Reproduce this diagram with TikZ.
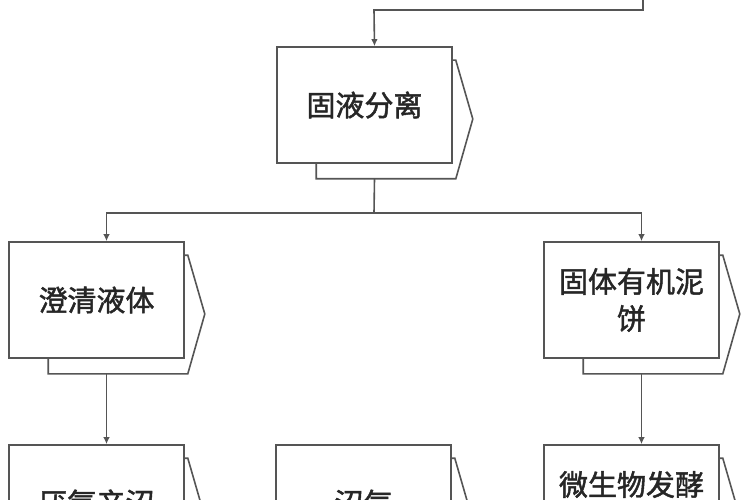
\documentclass[tikz,border=0pt]{standalone}
\usepackage{fontspec}
\newfontfamily\cjk{Noto Sans CJK SC}[FakeBold=1.6]
\usetikzlibrary{arrows.meta,backgrounds,calc}
\definecolor{lc}{HTML}{555555}
\definecolor{tc}{HTML}{262626}
\tikzset{
 conn/.style={draw=lc, line width=1.6pt},
 arr/.style={conn, -{Latex[length=7pt,width=6.5pt]}},
 frontbox/.style={draw=lc, fill=white, line width=1.6pt, minimum width=175pt, minimum height=116pt, inner sep=0pt, text=tc, font=\cjk\fontsize{29}{37}\selectfont, align=center},
 backbox/.style={draw=lc, fill=white, line width=1.6pt, line join=miter},
}
\newcommand{\drawback}[1]{%
 \path[backbox] ($(#1.north west)+(40,14)$) -- ($(#1.north east)+(3,14)$) -- ($(#1.east)+(20,14)$) -- ($(#1.south east)+(3,15)$) -- ($(#1.south west)+(40,15)$) -- cycle;}
\begin{document}
\begin{tikzpicture}[x=1pt,y=-1pt]
\useasboundingbox (0,0) rectangle (750,500);
\node[frontbox] (sep) at (364.5,105) {固液分离};
\node[frontbox] (clear) at (96.5,300) {澄清液体};
\node[frontbox] (cake) at (631.5,300) {固体有机泥\\饼};
\node[frontbox] (anaer) at (96.5,503) {厌氧产沼};
\node[frontbox] (biogas) at (363.5,503) {沼气};
\node[frontbox] (ferm) at (631.5,503) {微生物发酵\\\phantom{饼}};
\begin{pgfonlayer}{background}
\fill[white] (0,0) rectangle (750,500);
\drawback{sep}
\drawback{clear}
\drawback{cake}
\drawback{anaer}
\drawback{biogas}
\drawback{ferm}
\end{pgfonlayer}
\coordinate (topin) at (643,0);
\coordinate (topbend) at (374,10);
\draw[arr] (topin) |- (topbend) -- ($(sep.north)+(10,0)$);
\coordinate (split) at (374,213);
\draw[conn] ($(sep.south)+(10,15)$) -- (split);
\draw[arr] (split) -| ($(clear.north)+(10,0)$);
\draw[arr] (split) -| ($(cake.north)+(10,0)$);
\draw[arr] ($(clear.south)+(10,15)$) -- ($(anaer.north)+(10,0)$);
\draw[arr] ($(cake.south)+(10,15)$) -- ($(ferm.north)+(10,0)$);
\end{tikzpicture}
\end{document}
